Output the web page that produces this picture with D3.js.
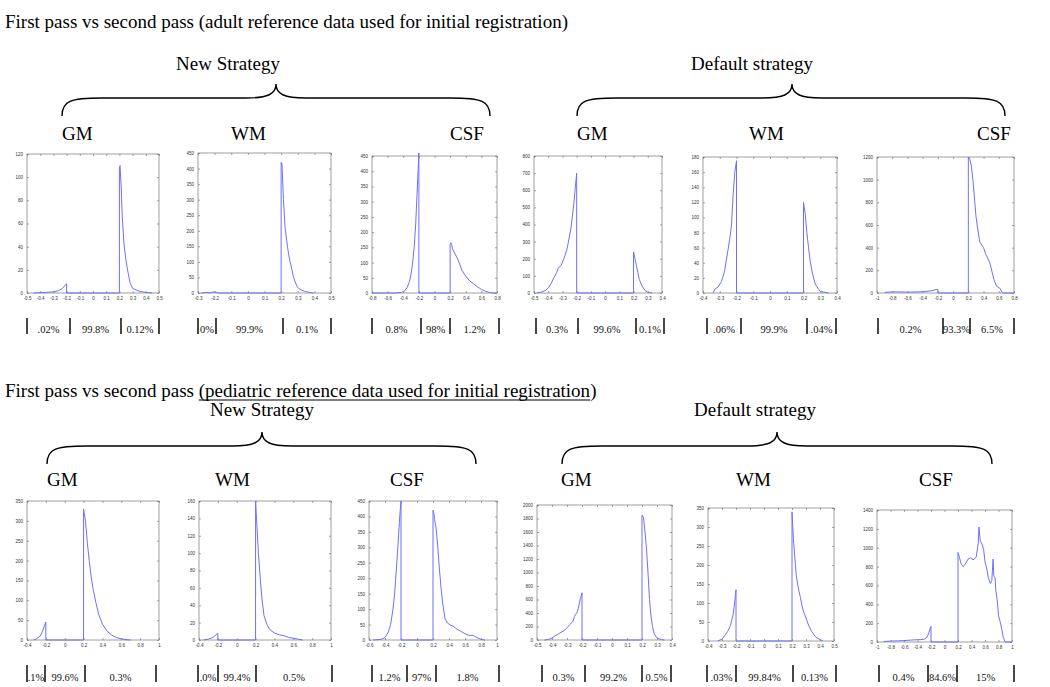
<!DOCTYPE html>
<html><head><meta charset="utf-8">
<script src="https://cdn.jsdelivr.net/npm/d3@7"></script>
<style>body{margin:0;background:#fff}svg{display:block}</style>
</head><body>
<svg id="c" width="1050" height="687"></svg>
<script>
// ---------------- DATA ----------------
const titles = [
  "First pass vs second pass (adult reference data used for initial registration)",
  "First pass vs second pass (pediatric reference data used for initial registration)"
];
const strategies = ["New Strategy", "Default strategy"];
const tissues = ["GM", "WM", "CSF"];

// x / y axis ranges and tick steps, per panel (adult row then pediatric row)
const xDomains = [[-0.5,0.5],[-0.3,0.5],[-0.8,0.8],[-0.5,0.4],[-0.4,0.4],[-1,0.8],
                  [-0.4,1],[-0.4,1],[-0.6,1],[-0.5,0.4],[-0.4,0.5],[-1,1]];
const xSteps = [0.1,0.1,0.2,0.1,0.1,0.2, 0.2,0.2,0.2,0.1,0.1,0.2];
const yDomains = [[0,120],[0,450],[0,450],[0,800],[0,180],[0,1200],
                  [0,350],[0,160],[0,450],[0,2000],[0,350],[0,1400]];
const ySteps = [20,50,50,100,20,200, 50,20,50,200,50,200];

const percents = [
  [".02%","99.8%","0.12%"],[ "0%","99.9%","0.1%"],["0.8%","98%","1.2%"],
  ["0.3%","99.6%","0.1%"],[".06%","99.9%",".04%"],["0.2%","93.3%","6.5%"],
  [".1%","99.6%","0.3%"],[".0%","99.4%","0.5%"],["1.2%","97%","1.8%"],
  ["0.3%","99.2%","0.5%"],[".03%","99.84%","0.13%"],["0.4%","84.6%","15%"]
];

const adultNewGM = [[-0.45,0],[-0.4,0.3],[-0.35,0.5],[-0.3,1],[-0.26,2],[-0.23,4],[-0.21,7],[-0.2,8],[-0.2,0],[0.2,0],[0.2,108],[0.205,110],[0.215,88],[0.222,65],[0.235,42],[0.25,28],[0.265,18],[0.28,9],[0.3,4],[0.35,1.5],[0.4,0.5],[0.45,0]];
const adultNewWM = [[-0.28,0],[-0.25,2],[-0.23,1],[-0.2,4],[-0.18,0],[0.2,0],[0.2,420],[0.205,415],[0.214,300],[0.224,210],[0.238,150],[0.245,125],[0.254,100],[0.265,75],[0.274,52],[0.285,35],[0.295,22],[0.305,15],[0.32,10],[0.345,5],[0.37,2],[0.395,0]];
const adultNewCSF = [[-0.8,0],[-0.5,0],[-0.42,2],[-0.38,8],[-0.35,18],[-0.32,38],[-0.3,62],[-0.28,100],[-0.26,150],[-0.24,230],[-0.225,320],[-0.21,400],[-0.2,460],[-0.2,0],[0.2,0],[0.2,160],[0.21,165],[0.22,160],[0.23,145],[0.25,135],[0.3,110],[0.35,75],[0.4,55],[0.45,40],[0.5,30],[0.55,20],[0.6,12],[0.65,6],[0.7,2],[0.75,0],[0.8,0]];
const adultDefGM = [[-0.48,0],[-0.45,5],[-0.42,15],[-0.4,30],[-0.38,55],[-0.36,90],[-0.34,120],[-0.33,145],[-0.31,160],[-0.29,200],[-0.27,250],[-0.26,290],[-0.24,380],[-0.22,520],[-0.21,610],[-0.2,700],[-0.2,0],[0.2,0],[0.2,240],[0.21,200],[0.22,160],[0.23,120],[0.24,80],[0.26,40],[0.28,15],[0.3,5],[0.33,0]];
const adultDefWM = [[-0.34,0],[-0.33,5],[-0.31,8],[-0.29,15],[-0.28,22],[-0.27,30],[-0.26,45],[-0.25,58],[-0.24,72],[-0.23,90],[-0.22,130],[-0.21,160],[-0.2,175],[-0.2,0],[0.2,0],[0.2,120],[0.21,105],[0.22,80],[0.23,60],[0.24,42],[0.25,30],[0.26,20],[0.27,12],[0.29,5],[0.3,2],[0.35,0]];
const adultDefCSF = [[-0.9,5],[-0.8,10],[-0.6,8],[-0.42,10],[-0.3,18],[-0.25,25],[-0.22,32],[-0.2,30],[-0.2,0],[0.2,0],[0.2,1200],[0.22,1180],[0.24,1120],[0.26,1000],[0.285,800],[0.3,680],[0.316,600],[0.35,450],[0.4,400],[0.43,340],[0.46,300],[0.48,270],[0.5,220],[0.535,120],[0.57,60],[0.61,45],[0.65,0],[0.8,0]];

const pedNewGM = [[-0.33,0],[-0.3,3],[-0.26,10],[-0.23,25],[-0.21,40],[-0.2,45],[-0.2,0],[0.2,0],[0.2,330],[0.22,300],[0.24,245],[0.26,200],[0.28,160],[0.3,130],[0.33,95],[0.36,65],[0.4,40],[0.45,22],[0.5,12],[0.55,6],[0.6,3],[0.65,1],[0.7,0]];
const pedNewWM = [[-0.35,0],[-0.3,1],[-0.25,3],[-0.22,6],[-0.2,8],[-0.2,0],[0.2,0],[0.2,160],[0.21,140],[0.23,100],[0.25,70],[0.27,45],[0.29,28],[0.32,18],[0.35,12],[0.4,8],[0.45,6],[0.5,5],[0.55,3],[0.6,2],[0.65,1],[0.7,0]];
const pedNewCSF = [[-0.55,0],[-0.45,2],[-0.4,8],[-0.36,25],[-0.33,50],[-0.3,100],[-0.28,150],[-0.26,220],[-0.24,300],[-0.22,380],[-0.21,420],[-0.2,450],[-0.2,0],[0.2,0],[0.2,420],[0.21,410],[0.22,390],[0.24,360],[0.26,300],[0.28,230],[0.3,170],[0.32,120],[0.35,70],[0.38,55],[0.42,48],[0.45,45],[0.5,35],[0.55,28],[0.6,20],[0.65,15],[0.7,15],[0.72,12],[0.75,8],[0.8,2],[0.85,0]];
const pedDefGM = [[-0.45,0],[-0.42,10],[-0.4,30],[-0.38,60],[-0.35,100],[-0.32,140],[-0.3,180],[-0.28,230],[-0.26,280],[-0.25,350],[-0.23,420],[-0.22,520],[-0.21,620],[-0.2,700],[-0.2,0],[0.2,0],[0.2,1850],[0.21,1820],[0.22,1600],[0.23,1350],[0.24,1000],[0.25,600],[0.26,350],[0.27,200],[0.28,100],[0.3,30],[0.33,5],[0.35,0]];
const pedDefWM = [[-0.33,0],[-0.3,5],[-0.28,15],[-0.26,25],[-0.24,40],[-0.22,70],[-0.21,100],[-0.2,135],[-0.2,0],[0.2,0],[0.2,340],[0.21,270],[0.22,220],[0.23,175],[0.24,150],[0.25,130],[0.26,115],[0.27,95],[0.28,80],[0.3,60],[0.32,40],[0.34,25],[0.35,20],[0.37,10],[0.4,4],[0.42,0]];
const pedDefCSF = [[-0.9,5],[-0.8,10],[-0.7,12],[-0.6,15],[-0.5,20],[-0.4,25],[-0.35,25],[-0.3,30],[-0.26,50],[-0.23,100],[-0.21,150],[-0.2,165],[-0.2,0],[0.2,0],[0.2,950],[0.22,900],[0.25,820],[0.28,800],[0.31,830],[0.35,880],[0.38,890],[0.4,890],[0.42,870],[0.44,880],[0.47,900],[0.49,1000],[0.5,1050],[0.51,1220],[0.53,1070],[0.55,1050],[0.58,980],[0.6,850],[0.62,800],[0.65,680],[0.68,620],[0.7,650],[0.71,760],[0.72,880],[0.73,700],[0.75,680],[0.76,550],[0.78,450],[0.79,370],[0.8,280],[0.83,200],[0.85,130],[0.87,50],[0.9,0],[1,0]];

const series = [adultNewGM, adultNewWM, adultNewCSF, adultDefGM, adultDefWM, adultDefCSF,
                pedNewGM, pedNewWM, pedNewCSF, pedDefGM, pedDefWM, pedDefCSF];

// ---------------- LAYOUT ----------------
const boxes = [ // [left, right, top, bottom]
  [27,159,154,293],[198,331,153,293],[372,497,156,293],[534,662,156,293],[703,837,157,293],[877,1014,157,293],
  [27,159,501,640],[199,331,501,640],[369,497,501,640],[537,672,505,640],[708,834,508,641],[877,1012,510,642]
];
const barXs = [
  [27,70,121,159],[198,216,283,331],[372,421,450,499],[536,578,636,664],[707,741,807,836],[878,943,970,1014],
  [27,45,85,156],[198,218,256,332],[372,407,436,499],[542,585,642,671],[707,736,793,836],[879,928,957,1014]
];
const barRows = [[318,334,333],[665,682,681]]; // barTop, barBottom, textBaseline
const tissueLabelX = [[62,231,450,577,749,977],[47,215,390,561,736,919]];
const tissueLabelY = [140,486];
const groupLabel = [[[228,70],[752,70]],[[262,416],[755,416]]];
const braces = [ // x0, x1, xm, yEnd, yLine, yPeak
  [[62,490,276,116,98,84],[577,1005,792,116,98,84]],
  [[47,476,262,464,446,432],[562,992,777,464,446,432]]
];

const svg = d3.select("#c");
const serif = "'Liberation Serif','Times New Roman',serif";

// titles
svg.append("text").attr("x",5).attr("y",28).attr("font-family",serif).attr("font-size",19).text(titles[0]);
const t2 = svg.append("text").attr("x",5).attr("y",397).attr("font-family",serif).attr("font-size",19);
const t2a = "First pass vs second pass ";
const t2b = titles[1].slice(t2a.length, titles[1].length-1);
t2.append("tspan").text(t2a);
t2.append("tspan").text(t2b);
t2.append("tspan").text(")");
{
  const node = t2.node();
  const x0 = 5 + node.getSubStringLength(0, t2a.length);
  const w = node.getSubStringLength(t2a.length, t2b.length);
  svg.append("line").attr("x1",x0).attr("x2",x0+w).attr("y1",400).attr("y2",400)
     .attr("stroke","#000").attr("stroke-width",1);
}

function bracePath(b){
  const [x0,x1,xm,yE,yL,yP]=b;
  return `M${x0},${yE} C${x0},${yL+3} ${x0+8},${yL} ${x0+40},${yL} L${xm-30},${yL} C${xm-8},${yL} ${xm},${yL-4} ${xm},${yP} C${xm},${yL-4} ${xm+8},${yL} ${xm+30},${yL} L${x1-40},${yL} C${x1-8},${yL} ${x1},${yL+3} ${x1},${yE}`;
}
[0,1].forEach(r=>{
  braces[r].forEach((b,g)=>{
    svg.append("path").attr("d",bracePath(b)).attr("fill","none").attr("stroke","#000").attr("stroke-width",1.4);
    svg.append("text").attr("x",groupLabel[r][g][0]).attr("y",groupLabel[r][g][1]).attr("text-anchor","middle")
      .attr("font-family",serif).attr("font-size",19).text(strategies[g]);
  });
  tissueLabelX[r].forEach((x,i)=>{
    svg.append("text").attr("x",x).attr("y",tissueLabelY[r]).attr("font-family",serif).attr("font-size",19).text(tissues[i%3]);
  });
});

const fmt = v => { const s = (+v.toFixed(3)).toString(); return s; };

series.forEach((data,i)=>{
  const [L,R,T,B] = boxes[i];
  const x = d3.scaleLinear().domain(xDomains[i]).range([L,R]);
  const y = d3.scaleLinear().domain(yDomains[i]).range([B,T]);
  const g = svg.append("g");
  const xt = d3.range(0, Math.round((xDomains[i][1]-xDomains[i][0])/xSteps[i])+1).map(k=>+(xDomains[i][0]+k*xSteps[i]).toFixed(3));
  const yt = d3.range(0, Math.round((yDomains[i][1]-yDomains[i][0])/ySteps[i])+1).map(k=>yDomains[i][0]+k*ySteps[i]);
  const tickStyle = s => s.call(a=>a.select(".domain").remove())
      .call(a=>a.selectAll("line").attr("stroke","#666").attr("stroke-width",0.6))
      .call(a=>a.selectAll("text").attr("font-size",4.5).attr("fill","#333").attr("font-family","Arial, sans-serif"));
  g.append("g").attr("transform",`translate(0,${B})`).call(d3.axisBottom(x).tickValues(xt).tickSize(-2).tickPadding(4).tickFormat(fmt)).call(tickStyle);
  g.append("g").attr("transform",`translate(0,${T})`).call(d3.axisTop(x).tickValues(xt).tickSize(-2).tickFormat("")).call(tickStyle);
  g.append("g").attr("transform",`translate(${L},0)`).call(d3.axisLeft(y).tickValues(yt).tickSize(-2).tickPadding(4).tickFormat(d3.format("d"))).call(tickStyle);
  g.append("g").attr("transform",`translate(${R},0)`).call(d3.axisRight(y).tickValues(yt).tickSize(-2).tickFormat("")).call(tickStyle);
  g.append("rect").attr("x",L).attr("y",T).attr("width",R-L).attr("height",B-T).attr("fill","none").attr("stroke","#777").attr("stroke-width",0.7);
  g.append("path").datum(data).attr("fill","none").attr("stroke","#6f6fff").attr("stroke-width",1)
    .attr("d", d3.line().x(d=>x(d[0])).y(d=>y(d[1])));

  // percent bars
  const row = i<6 ? 0 : 1;
  const [bt,bb,by] = barRows[row];
  const bx = barXs[i];
  bx.forEach(xx=>{
    svg.append("line").attr("x1",xx).attr("x2",xx).attr("y1",bt).attr("y2",bb).attr("stroke","#333").attr("stroke-width",1.8);
  });
  percents[i].forEach((p,k)=>{
    svg.append("text").attr("x",(bx[k]+bx[k+1])/2).attr("y",by).attr("text-anchor","middle")
      .attr("font-family",serif).attr("font-size",10.5).attr("fill","#111").text(p);
  });
});
</script>
</body></html>
